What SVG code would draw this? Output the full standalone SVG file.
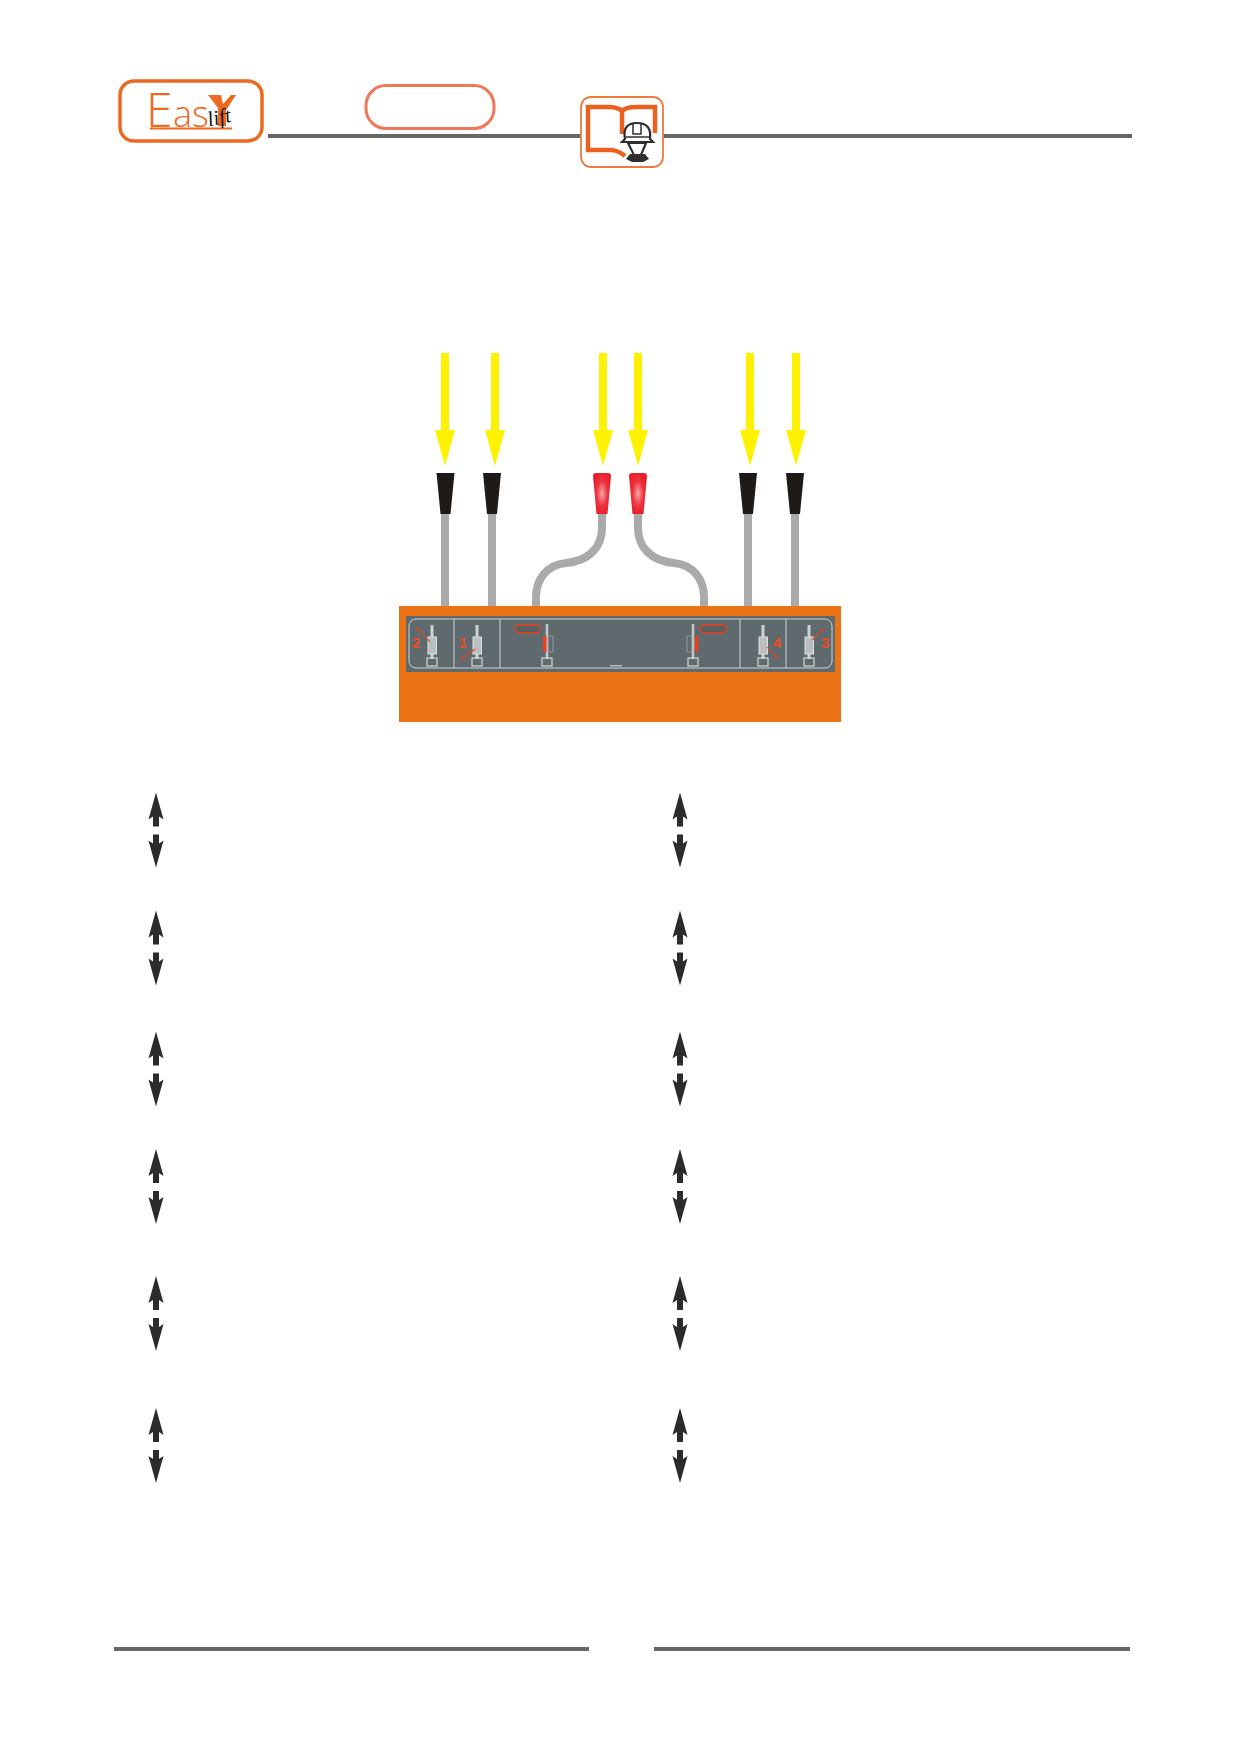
<svg xmlns="http://www.w3.org/2000/svg" xmlns:xlink="http://www.w3.org/1999/xlink" width="1247" height="1740" viewBox="0 0 1247 1740">
<style>
.rule{stroke:#666;stroke-width:4;fill:none}
.cable{stroke:#aaa;stroke-width:8;fill:none}
.yl{fill:#fff200}
.sw{fill:none;stroke:#d5d8d8;stroke-width:1.200}
.num{font-family:"Liberation Sans",Arial,sans-serif;font-size:15px;font-weight:bold;fill:#ee4a22}
.lead{stroke:#e8401c;stroke-width:1.100;fill:none}
.dot{fill:#e8401c}
.pill{fill:#5a5f62;stroke:#e8401c;stroke-width:1.400}
.lg{font-family:"Open Sans","Liberation Sans",Arial,sans-serif;font-weight:300;fill:#ec6a20}
.bk{fill:none;stroke:#ea6120;stroke-width:4.500}
.hm{fill:#fff;stroke:#2e2e2e;stroke-width:2.200}
</style>
<defs>
<filter id="soft" x="-5%" y="-5%" width="110%" height="110%"><feGaussianBlur stdDeviation="0.45"/></filter>
<radialGradient id="redg" cx="50%" cy="50%" r="50%"><stop offset="0" stop-color="#f7a7a7"/><stop offset="0.6" stop-color="#ee3340"/><stop offset="1" stop-color="#e8202e"/></radialGradient>
<g id="yarrow"><path class="yl" d="M-4 0H4V77L10 77L0 113L-10 77L-4 77Z"/></g>
<g id="blk"><path fill="#1f1a18" d="M-9 0H9L5 41H-5Z"/></g>
<g id="redp"><path fill="url(#redg)" d="M-6 0H6Q9 0 9 3L5.500 41H-5.500L-9 3Q-9 0 -6 0Z"/></g>
<g id="updown"><path fill="#2b2b2b" d="M0 0L7.500 27L3 24V34H-3V24L-7.500 27Z"/><path fill="#2b2b2b" d="M0 75L7.500 48L3 51V42H-3V51L-7.500 48Z"/></g>
<g id="sw"><rect x="-1.500" y="7" width="3" height="34" fill="#cdd1d1"/><rect x="-4" y="19" width="8.500" height="17" fill="#b9bebe" stroke="#dfe2e2" stroke-width="1"/><rect class="sw" x="-5" y="40" width="10" height="8"/></g>
</defs>

<g id="header">
<rect x="120" y="81" width="142" height="60" rx="14" fill="#fff" stroke="#ea6a22" stroke-width="3.500"/>
<path d="M150 128.500H232" stroke="#ec6a20" stroke-width="1.800"/>
<text class="lg" x="146" y="127" font-size="48">E</text>
<text class="lg" x="173" y="127" font-size="36">a</text>
<text class="lg" x="192" y="127" font-size="36" font-weight="400">s</text>
<path d="M208 95H221L223 104L231 95H236L226 110V126H218V108Z" fill="#ec6a20"/>
<text x="208" y="124" font-size="21" font-style="italic" font-family="Liberation Serif,serif" fill="#111" transform="rotate(-12 220 120)">lift</text>
<path class="rule" d="M268 136H581M663 136H1132"/>
<rect x="366" y="85.500" width="128" height="43" rx="20" fill="#fff" stroke="#f0785a" stroke-width="3"/>
</g>

<g id="book">
<rect x="581" y="97" width="82" height="70" rx="10" fill="#fff" stroke="#ef7a40" stroke-width="1.800"/>
<path class="bk" d="M588 151V107H608Q618 107 622 111Q626 107 636 107H655V133"/>
<path class="bk" d="M622 111V134"/>
<path class="bk" d="M586 150H610Q618 150 625 156"/>
<path class="hm" d="M628 143L634 155H641L646 143Z"/>
<path d="M630 154H645L649 159L643 162H632L626 159Z" fill="#2e2e2e"/>
<path class="hm" d="M625 139Q622 123 637 123Q652 123 650 139L653 142H622Z"/>
<path d="M633 124V134H641V124" fill="none" stroke="#2e2e2e" stroke-width="1.500"/>
<path d="M626 137H649" stroke="#2e2e2e" stroke-width="1.500"/>
</g>

<g id="connectors">
<path class="cable" d="M445 514V606"/>
<path class="cable" d="M492 514V606"/>
<path class="cable" d="M602 514V528C602 548 588 561 566 563C546 565 536 580 536 597V606"/>
<path class="cable" d="M638 514V528C638 548 652 561 674 563C694 565 704 580 704 597V606"/>
<path class="cable" d="M748 514V606"/>
<path class="cable" d="M795 514V606"/>
<use xlink:href="#yarrow" href="#yarrow" x="445" y="353"/>
<use xlink:href="#yarrow" href="#yarrow" x="495" y="353"/>
<use xlink:href="#yarrow" href="#yarrow" x="603" y="353"/>
<use xlink:href="#yarrow" href="#yarrow" x="638" y="353"/>
<use xlink:href="#yarrow" href="#yarrow" x="750" y="353"/>
<use xlink:href="#yarrow" href="#yarrow" x="796" y="353"/>
</g>

<g id="plugs">
<use xlink:href="#blk" href="#blk" x="445.500" y="473"/>
<use xlink:href="#blk" href="#blk" x="492" y="473"/>
<use xlink:href="#redp" href="#redp" x="602" y="473"/>
<use xlink:href="#redp" href="#redp" x="638" y="473"/>
<use xlink:href="#blk" href="#blk" x="748" y="473"/>
<use xlink:href="#blk" href="#blk" x="795" y="473"/>
</g>

<g id="panel">
<rect x="399" y="606" width="442" height="116" fill="#ec7216"/>
<rect x="406" y="616" width="429" height="56" fill="#5f6a6e"/>
<g filter="url(#soft)">
<rect x="409" y="619" width="423" height="49" rx="7" fill="none" stroke="#cfd3d3" stroke-width="1"/>
<path d="M454 619V668M500 619V668M740 619V668M786 619V668" stroke="#cfd3d3" stroke-width="1"/>
<use xlink:href="#sw" href="#sw" x="432" y="618"/>
<use xlink:href="#sw" href="#sw" x="477" y="618"/>
<use xlink:href="#sw" href="#sw" x="763" y="618"/>
<use xlink:href="#sw" href="#sw" x="809" y="618"/>
<path d="M547 624V659M693 624V659" stroke="#c4c8c8" stroke-width="2.500"/>
<rect x="548" y="636" width="5" height="16" fill="none" stroke="#9ea3a3" stroke-width="0.800"/>
<rect x="687" y="636" width="5" height="16" fill="none" stroke="#9ea3a3" stroke-width="0.800"/>
<rect x="542" y="658" width="10" height="8" class="sw"/>
<rect x="688" y="658" width="10" height="8" class="sw"/>
<rect x="543" y="636" width="3.500" height="16" fill="#e8401c"/>
<rect x="695" y="636" width="3.500" height="16" fill="#e8401c"/>
<rect x="515" y="625" width="25" height="8" rx="4" class="pill"/>
<rect x="700" y="625" width="26" height="8" rx="4" class="pill"/>
<path class="lead" d="M418 629L430 642M475 649L463 658M767 647L776 657M812 640L822 630"/>
<circle class="dot" cx="418" cy="629" r="1.400"/><circle class="dot" cx="463" cy="658" r="1.400"/><circle class="dot" cx="776" cy="657" r="1.400"/><circle class="dot" cx="822" cy="630" r="1.400"/>
<rect x="610" y="665" width="12" height="1.500" fill="#b0b5b5"/>
</g>
<text class="num" x="412" y="648">2</text>
<text class="num" x="459" y="648">1</text>
<text class="num" x="773" y="648">4</text>
<text class="num" x="821" y="648">3</text>
</g>

<g id="arrows">
<use xlink:href="#updown" href="#updown" x="156" y="792.500"/><use xlink:href="#updown" href="#updown" x="680" y="792.500"/>
<use xlink:href="#updown" href="#updown" x="156" y="910.500"/><use xlink:href="#updown" href="#updown" x="680" y="910.500"/>
<use xlink:href="#updown" href="#updown" x="156" y="1031.500"/><use xlink:href="#updown" href="#updown" x="680" y="1031.500"/>
<use xlink:href="#updown" href="#updown" x="156" y="1149"/><use xlink:href="#updown" href="#updown" x="680" y="1149"/>
<use xlink:href="#updown" href="#updown" x="156" y="1276"/><use xlink:href="#updown" href="#updown" x="680" y="1276"/>
<use xlink:href="#updown" href="#updown" x="156" y="1408"/><use xlink:href="#updown" href="#updown" x="680" y="1408"/>
</g>

<g id="footer">
<path class="rule" d="M114 1649H589M654 1649H1130"/>
</g>
</svg>
